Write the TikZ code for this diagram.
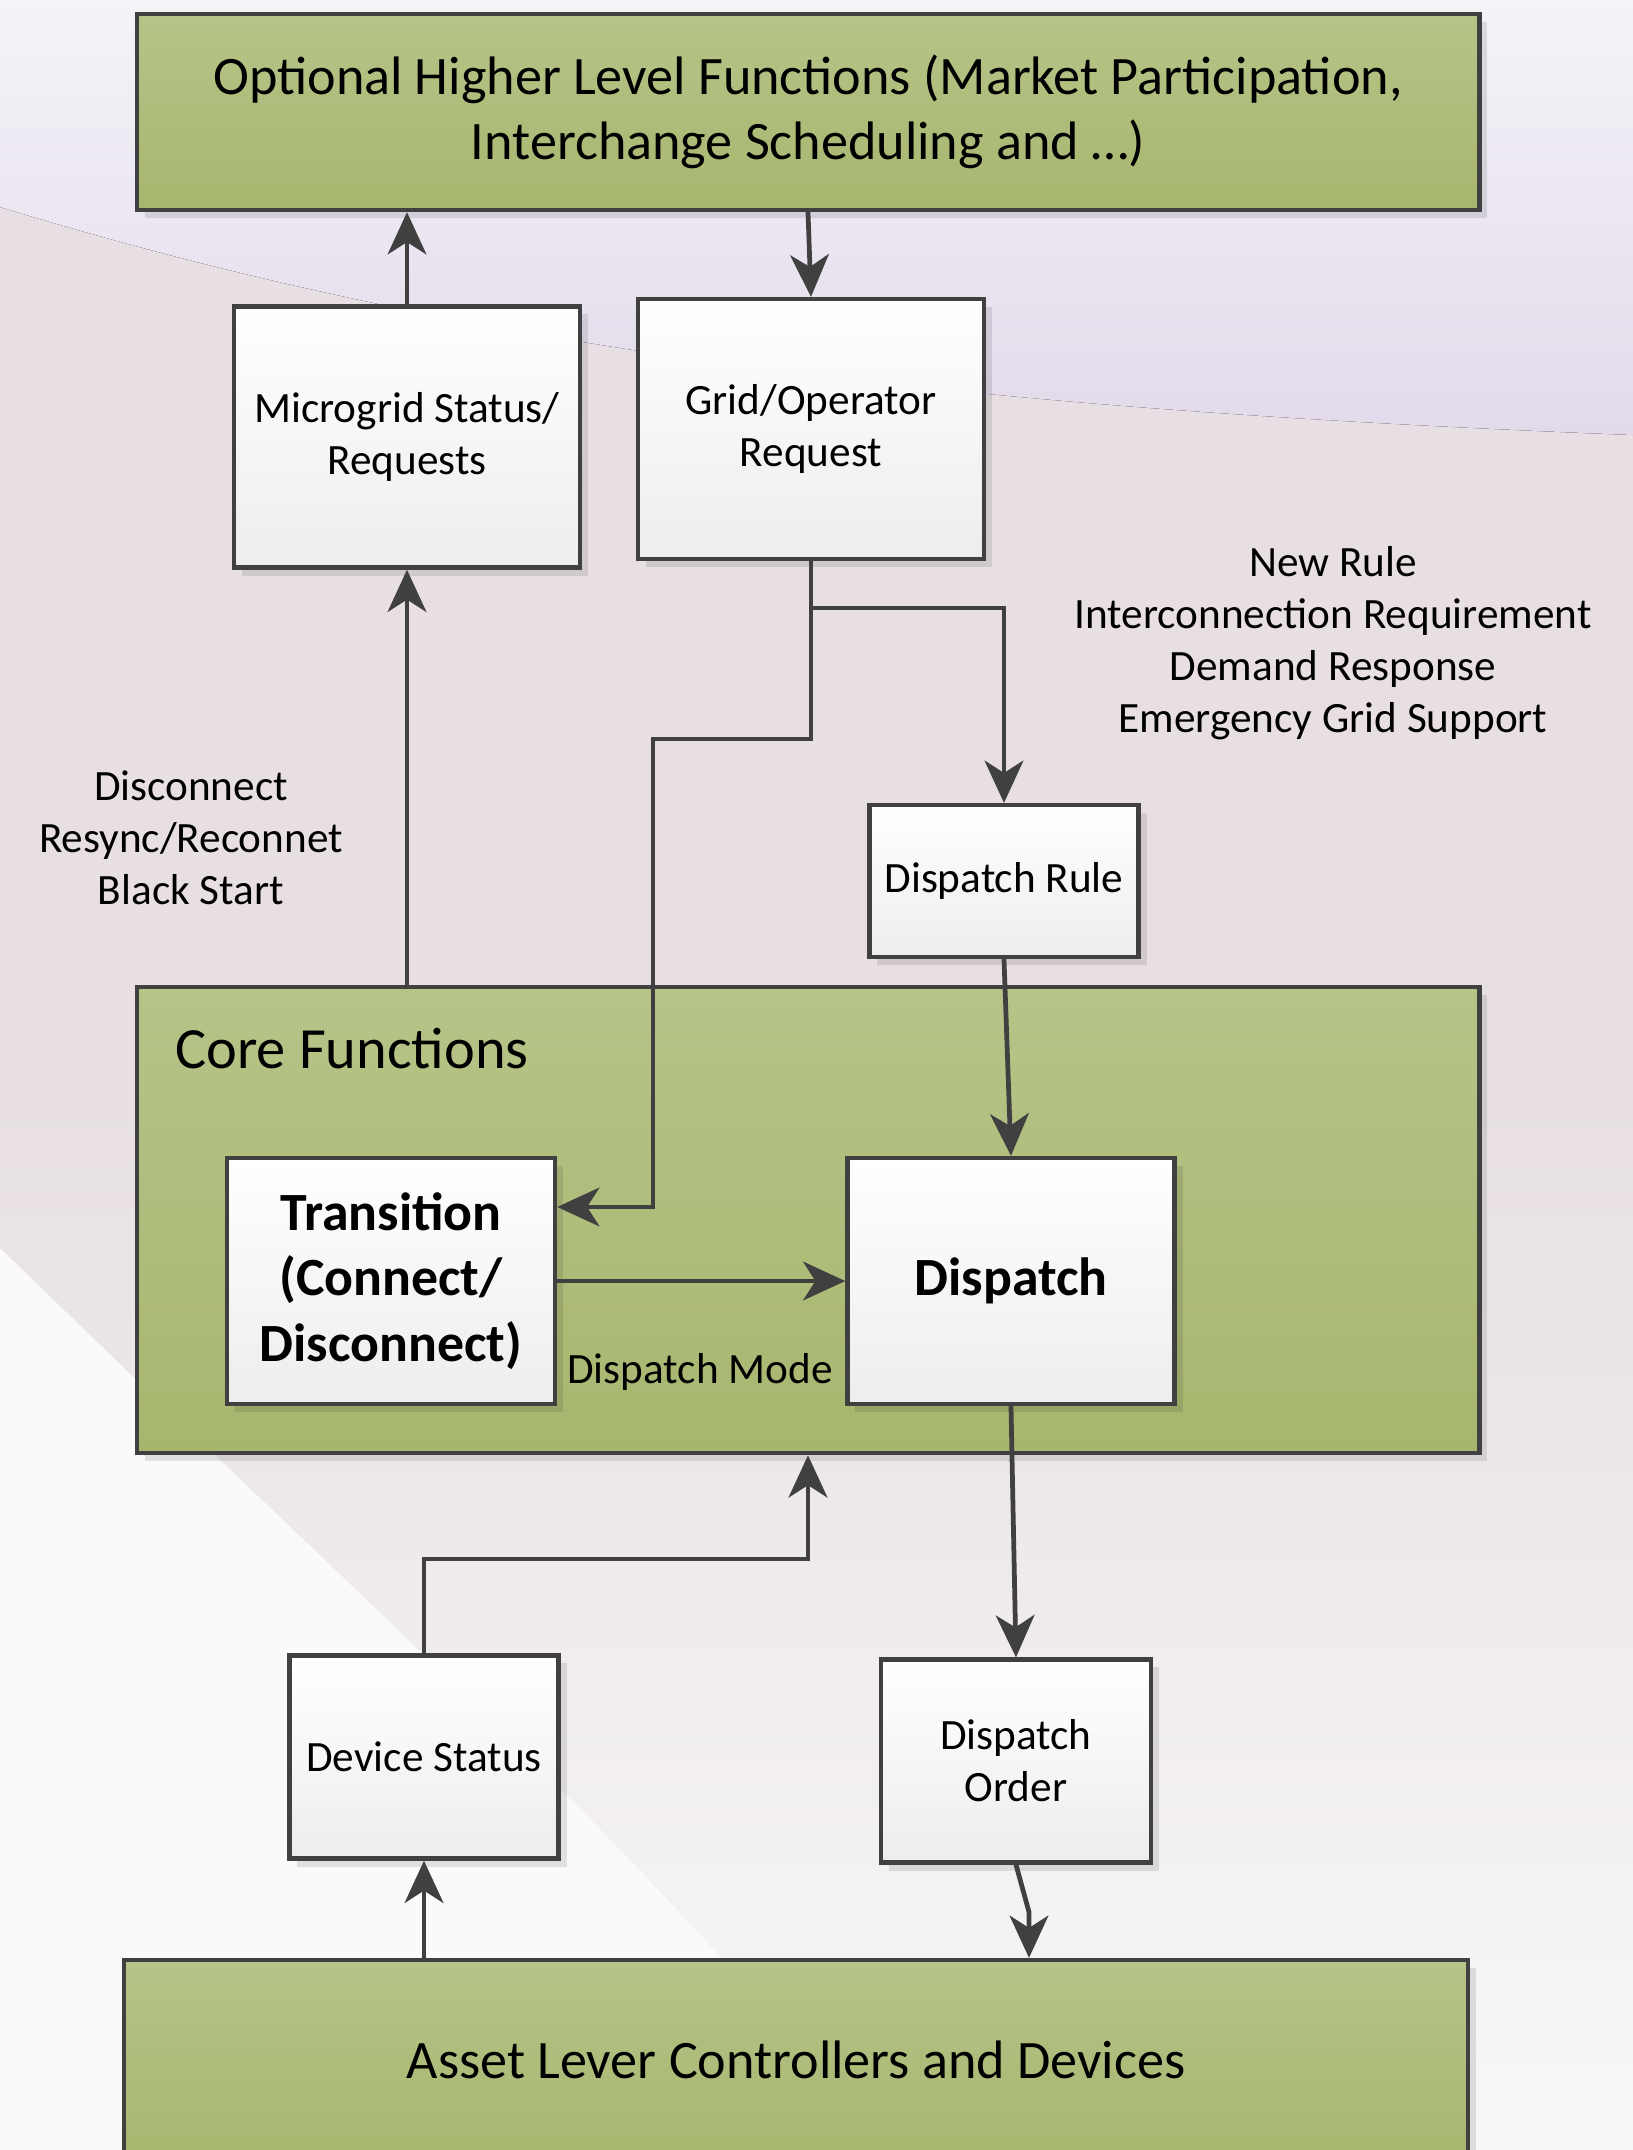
\documentclass[tikz,border=0pt]{standalone}
\usepackage{fontspec}
\setmainfont{Carlito}
\definecolor{boxline}{RGB}{64,64,64}
\definecolor{greentop}{RGB}{182,196,136}
\definecolor{greenbot}{RGB}{167,182,110}
\definecolor{whitebot}{RGB}{237,237,237}
\definecolor{bgtop}{RGB}{245,243,248}
\definecolor{lavender}{RGB}{226,218,234}
\definecolor{mauve}{RGB}{231,223,228}
\definecolor{paleback}{RGB}{248,247,248}
\definecolor{whiteback}{RGB}{250,250,251}
\usetikzlibrary{arrows.meta}
\usetikzlibrary{shadows}

\tikzset{
  boxshadow/.style={drop shadow={shadow xshift=0.08cm, shadow yshift=-0.08cm, fill=black, opacity=0.1}},
  greenbox/.style={draw=boxline, line width=1.2pt, top color=greentop, bottom color=greenbot,
    boxshadow, inner sep=0pt, align=center, font=\fontsize{15.4}{18.4}\selectfont},
  whitebox/.style={draw=boxline, line width=1.2pt, top color=white, bottom color=whitebot,
    boxshadow, inner sep=0pt, align=center, font=\fontsize{12.3}{14.8}\selectfont},
  corebox/.style={whitebox, font=\bfseries\fontsize{15.3}{18.6}\selectfont},
  conn/.style={draw=boxline, line width=1.35pt, -{Stealth[length=12pt,width=11pt,inset=3.5pt]}},
  note/.style={align=center, font=\fontsize{12.3}{14.8}\selectfont},
}

\begin{document}
\begin{tikzpicture}[x=0.01cm, y=-0.01cm]
  \useasboundingbox (0,0) rectangle (1633,2150);

  % background
  \fill[mauve] (0,0) rectangle (1633,1100);
  \fill[top color=mauve, bottom color=paleback] (0,1100) rectangle (1633,2150);
  \fill[top color=bgtop, bottom color=lavender] (0,0) -- (1633,0) -- (1633,435)
    .. controls (1000,410) and (500,360) .. (0,207) -- cycle;
  \fill[whiteback] (0,1248) .. controls (300,1540) and (500,1720) .. (677,1910)
    -- (900,2150) -- (0,2150) -- cycle;

  % green blocks
  \node[greenbox, minimum width=13.42cm, minimum height=1.96cm] (hlf) at (808,112)
    {Optional Higher Level Functions (Market Participation,\\Interchange Scheduling and …)};
  \node[greenbox, minimum width=13.42cm, minimum height=4.66cm] (core) at (808,1220) {};
  \node[anchor=west, font=\fontsize{16.6}{19}\selectfont] (corelbl) at (163,1049) {Core Functions};
  \node[greenbox, minimum width=13.43cm, minimum height=2.0cm] (asset) at (796,2060)
    {Asset Lever Controllers and Devices};

  % request / status blocks
  \node[whitebox, minimum width=3.46cm, minimum height=2.61cm] (msr) at (407,437) {Microgrid Status/\\Requests};
  \node[whitebox, minimum width=3.46cm, minimum height=2.60cm] (gor) at (811,429) {Grid/Operator\\Request};
  \node[whitebox, minimum width=2.69cm, minimum height=1.52cm] (drule) at (1004,881) {Dispatch Rule};
  \node[whitebox, minimum width=2.69cm, minimum height=2.03cm] (dstat) at (424,1757) {Device Status};
  \node[whitebox, minimum width=2.70cm, minimum height=2.03cm] (dord) at (1016,1761) {Dispatch\\Order};

  % core function blocks
  \node[corebox, minimum width=3.28cm, minimum height=2.46cm] (trans) at (391,1281) {Transition\\(Connect/\\Disconnect)};
  \node[corebox, minimum width=3.27cm, minimum height=2.46cm] (disp) at (1011,1281) {Dispatch};

  % notes
  \node[note] (modes) at (191,838) {Disconnect\\Resync/Reconnet\\Black Start};
  \node[note] (rules) at (1333,643) {New Rule\\Interconnection Requirement\\Demand Response\\Emergency Grid Support};
  \node[note] (dmode) at (700,1372) {Dispatch Mode};

  % helper points of the connectors
  \coordinate (jr) at (811,608);
  \coordinate (kink) at (653,739);
  \coordinate (jd) at (808,1559);
  \coordinate (bend) at (1029,1912);

  % connectors
  \draw[conn] (msr.north) -- (msr.north |- hlf.south);
  \draw[conn] (hlf.south) -- (gor.north);
  \draw[conn] (core.north -| msr.south) -- (msr.south);
  \draw[conn] (gor.south) -- (jr) -| (drule.north);
  \draw[conn] (gor.south) |- (kink) |- ([yshift=0.74cm]trans.east);
  \draw[conn] (trans.east) -- (disp.west);
  \draw[conn] (drule.south) -- (disp.north);
  \draw[conn] (disp.south) -- (dord.north);
  \draw[conn] (dstat.north) |- (jd) -- (core.south);
  \draw[conn] (asset.north -| dstat.south) -- (dstat.south);
  \draw[conn] (dord.south) -- (bend) -- (bend |- asset.north);
\end{tikzpicture}
\end{document}
